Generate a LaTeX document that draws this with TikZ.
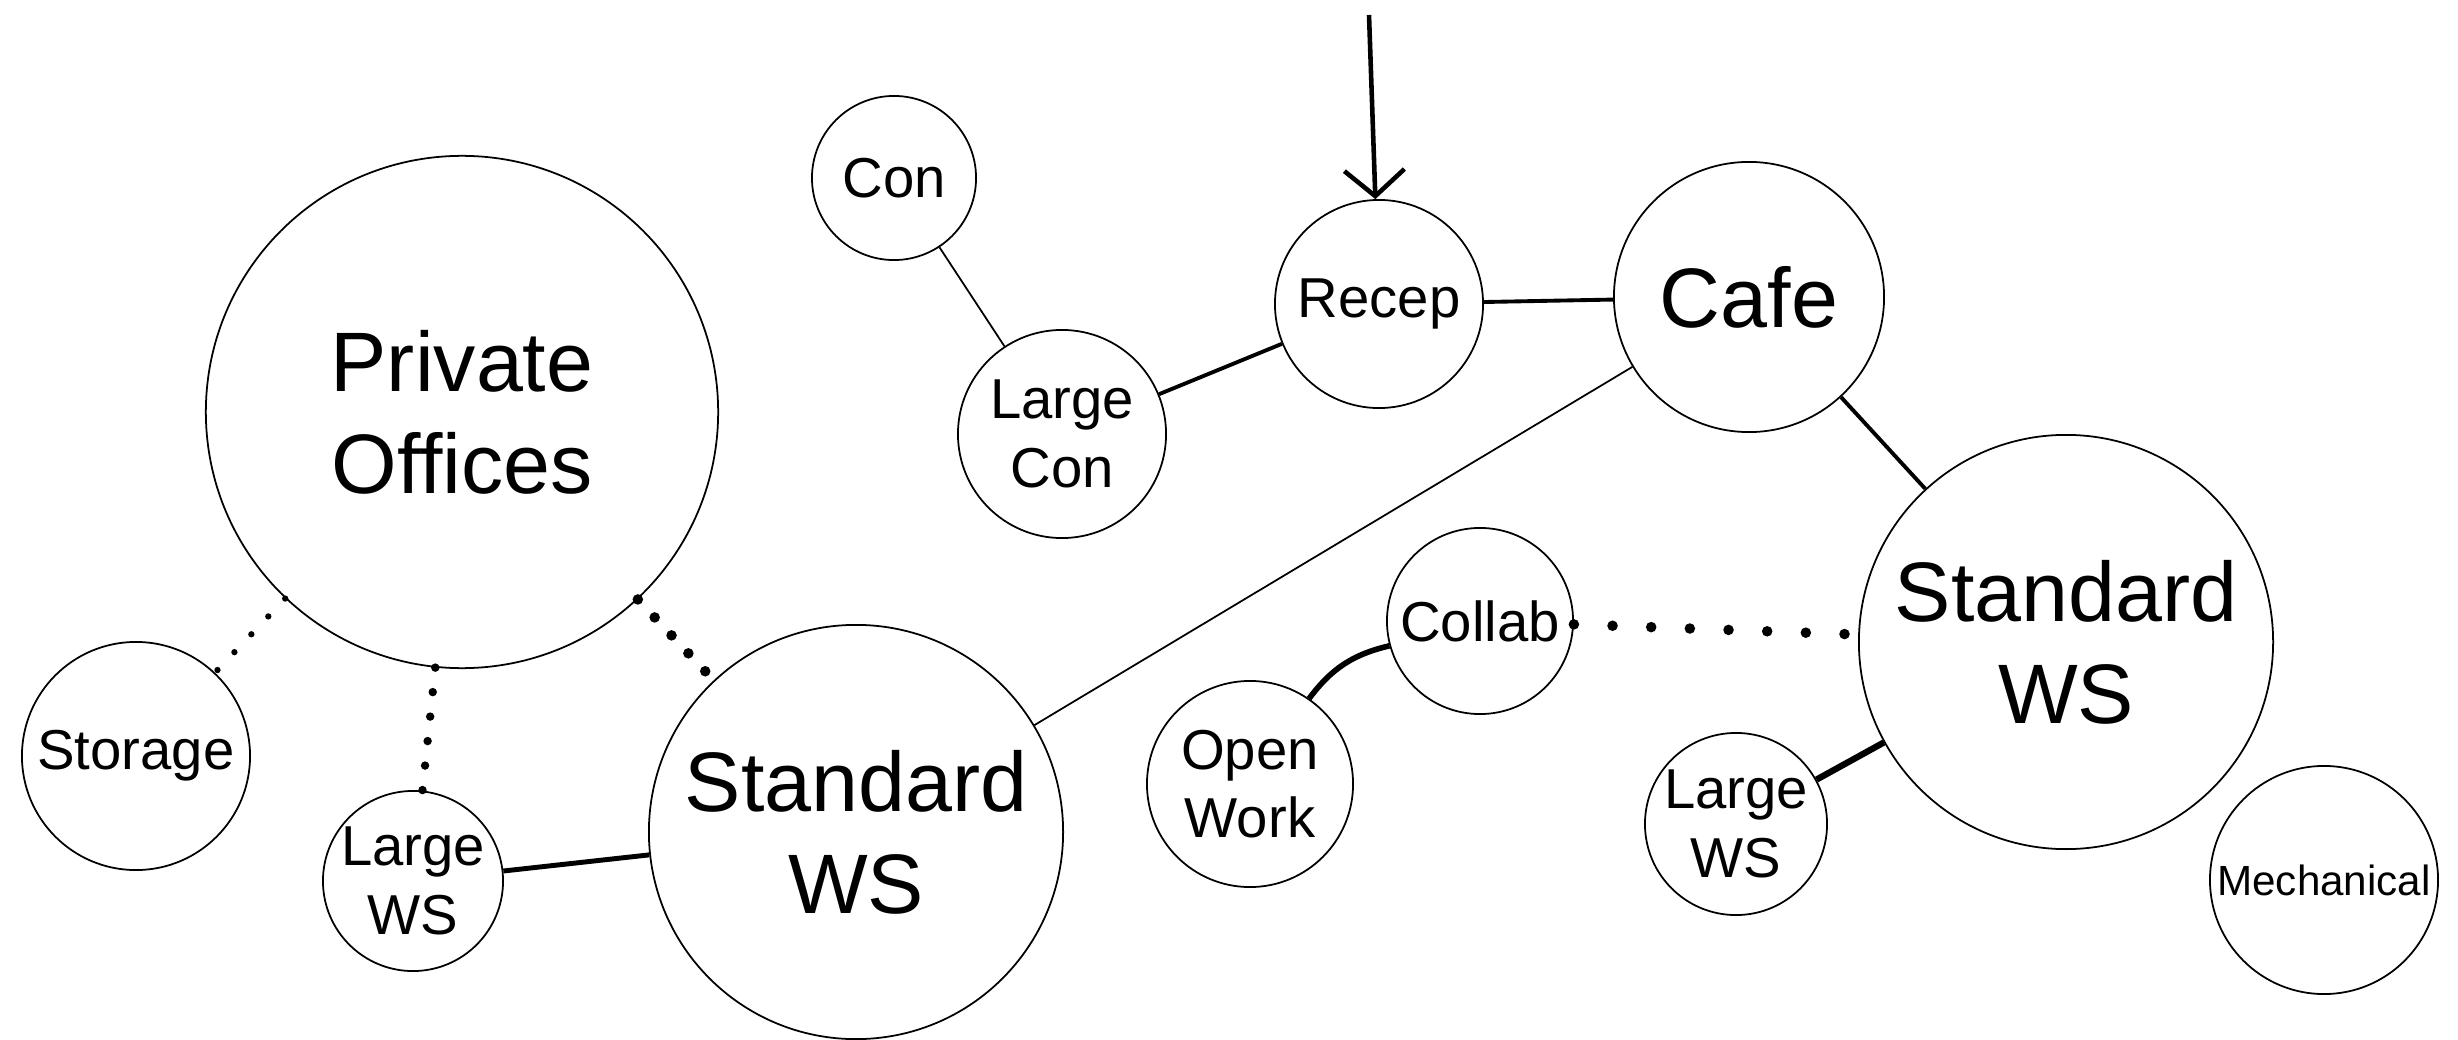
\documentclass[tikz,border=0pt]{standalone}
\usepackage{fontspec}
\setmainfont{Liberation Sans}
\usetikzlibrary{arrows.meta}
\newcommand{\bigtxt}{\fontsize{24}{29}\selectfont}
\newcommand{\midtxt}{\fontsize{16}{19.5}\selectfont}
\newcommand{\smalltxt}{\fontsize{12}{14}\selectfont}

\begin{document}
\begin{tikzpicture}[x=0.01cm,y=-0.01cm,font=\midtxt,
  room/.style={circle,draw,line width=.5pt,inner sep=0pt,align=center},
  link/.style={line width=.5pt},
  heavylink/.style={line width=1.1pt},
  dotlink/.style={line width=2.4pt,line cap=round,dash pattern=on 0pt off 7pt}]
\useasboundingbox (0,0) rectangle (2458,1040);
\node[room,minimum size=5.12cm,font=\bigtxt] (offices) at (462,412) {Private\\Offices};
\node[room,minimum size=2.28cm] (storage) at (136,756) {Storage};
\node[room,minimum size=1.80cm] (lwsa) at (413,881) {Large\\WS};
\node[room,minimum size=4.14cm,font=\bigtxt] (stdwsa) at (856,832) {Standard\\WS};
\node[room,minimum size=1.64cm] (con) at (894,178) {Con};
\node[room,minimum size=2.08cm] (largecon) at (1062,434) {Large\\Con};
\node[room,minimum size=2.08cm] (recep) at (1379,304) {Recep};
\node[room,minimum size=2.70cm,font=\bigtxt] (cafe) at (1749,297) {Cafe};
\node[room,minimum size=1.86cm] (collab) at (1480,621) {Collab};
\node[room,minimum size=2.06cm] (openwork) at (1250,784) {Open\\Work};
\node[room,minimum size=4.14cm,font=\bigtxt] (stdwsb) at (2066,642) {Standard\\WS};
\node[room,minimum size=1.82cm] (lwsb) at (1736,824) {Large\\WS};
\node[room,minimum size=2.28cm,font=\smalltxt] (mech) at (2324,880) {Mechanical};
\coordinate (entry) at (1369,15);
\draw[line width=1.3pt,-{Straight Barb[length=2.6mm,width=6mm]}] (entry) -- (recep);
\draw[link] (con) -- (largecon);
\draw[heavylink] (largecon) -- (recep);
\draw[heavylink] (recep) -- (cafe);
\draw[link] (cafe) -- (stdwsa);
\draw[heavylink] (cafe) -- (stdwsb);
\draw[dotlink,dash pattern=on 0pt off 11pt,line width=3pt] (collab) -- (stdwsb);
\draw[heavylink,line width=1.6pt] (openwork) to[bend left=20] (collab);
\draw[heavylink,line width=1.8pt] (lwsb) -- (stdwsb);
\draw[dotlink,line width=1.8pt] (offices) -- (storage);
\draw[dotlink] (offices) -- (lwsa);
\draw[dotlink,line width=3pt] (offices) -- (stdwsa);
\draw[heavylink,line width=1.4pt] (lwsa) -- (stdwsa);
\end{tikzpicture}
\end{document}
